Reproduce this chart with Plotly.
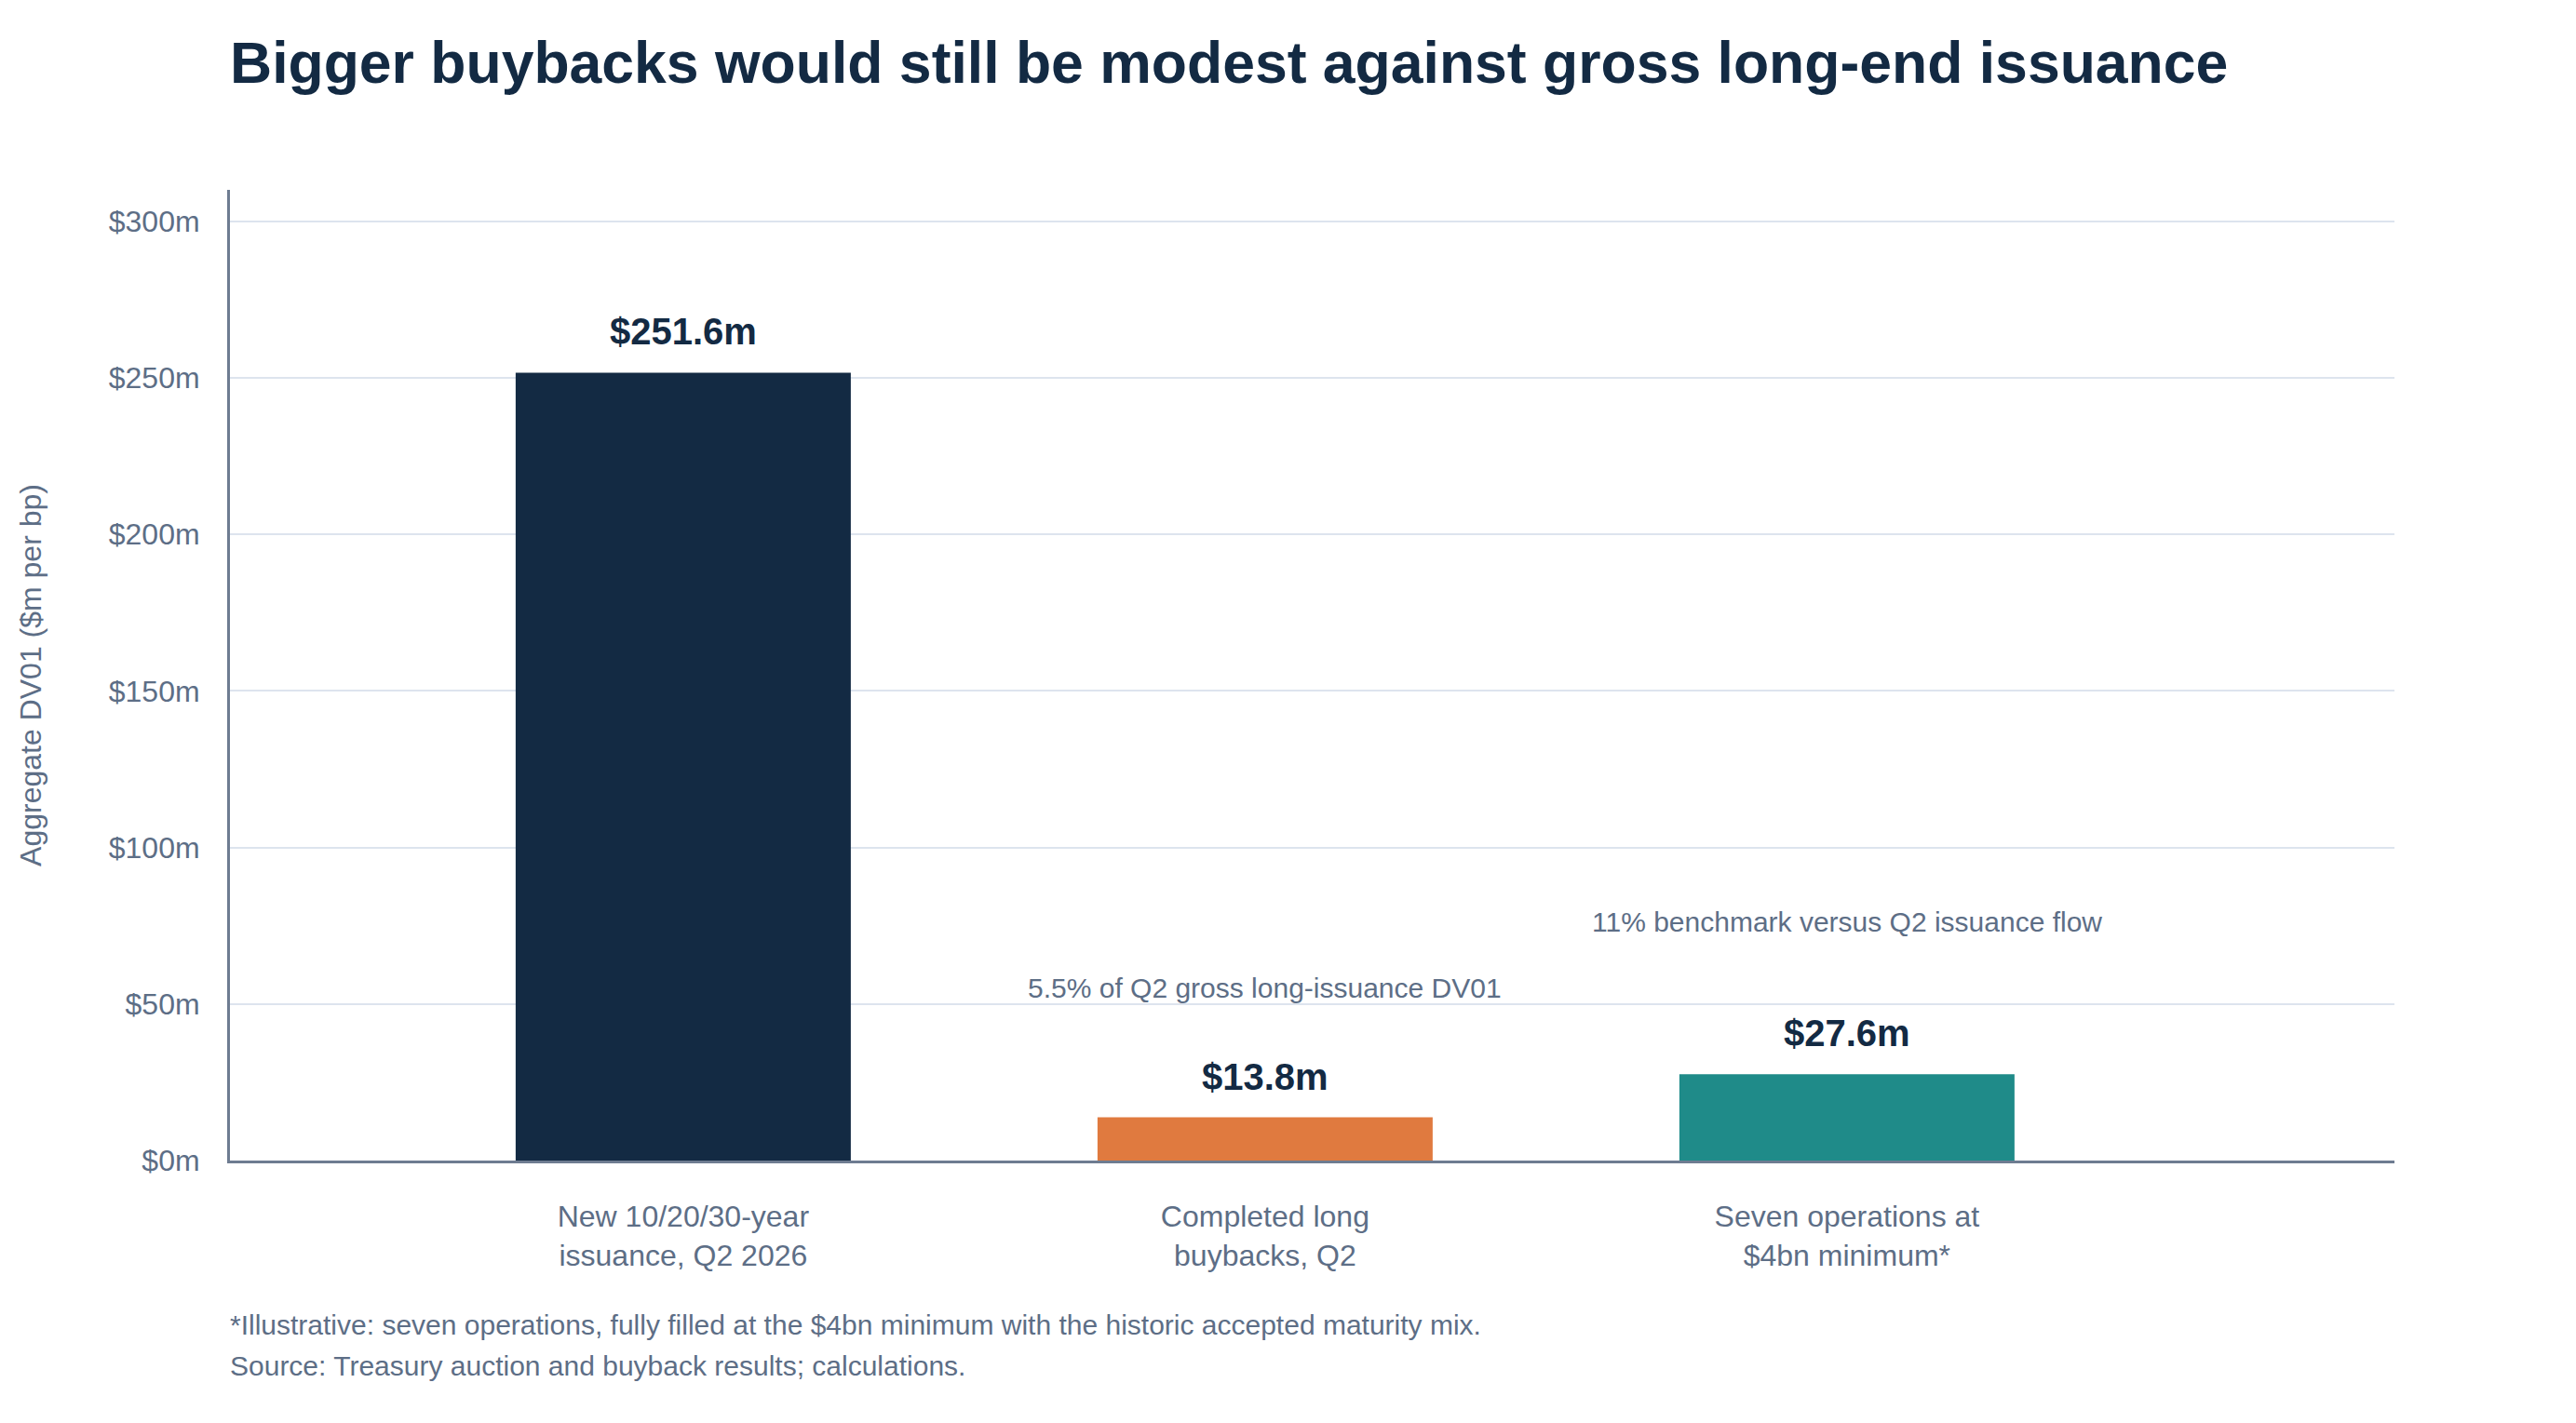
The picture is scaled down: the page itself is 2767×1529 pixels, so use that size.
import plotly.graph_objects as go

# chart data
categories = ["New 10/20/30-year<br>issuance, Q2 2026",
              "Completed long<br>buybacks, Q2",
              "Seven operations at<br>$4bn minimum*"]
dv01 = [251.6, 13.8, 27.6]
value_labels = ["$251.6m", "$13.8m", "$27.6m"]
bar_colors = ["#132a43", "#e07a3f", "#1f8b89"]

note_cats = [categories[1], categories[2]]
note_y = [55.0, 76.2]
note_text = ["5.5% of Q2 gross long-issuance DV01",
             "11% benchmark versus Q2 issuance flow"]

footnotes = ["*Illustrative: seven operations, fully filled at the $4bn minimum with the historic accepted maturity mix.",
             "Source: Treasury auction and buyback results; calculations."]

FONT = "Liberation Sans, Arial, sans-serif"
NAVY = "#132a43"
SLATE = "#5d6e86"

# page body adds an 8px offset, so the figure is a bit smaller
W, H = 2759, 1521

fig = go.Figure()
fig.add_trace(go.Bar(x=categories, y=dv01, width=0.576,
                     marker=dict(color=bar_colors, line=dict(width=0)),
                     hoverinfo="skip", showlegend=False))

# value labels above the bars
for c, v, t in zip(categories, dv01, value_labels):
    fig.add_annotation(x=c, y=v, text="<b>%s</b>" % t, showarrow=False,
                       yanchor="bottom", yshift=20,
                       font=dict(family=FONT, size=40, color=NAVY))

# share notes
for c, y, t in zip(note_cats, note_y, note_text):
    fig.add_annotation(x=c, y=y, text=t, showarrow=False, yanchor="middle",
                       font=dict(family=FONT, size=30, color=SLATE))

# footnotes below the chart
for i, t in enumerate(footnotes):
    fig.add_annotation(xref="paper", yref="paper", x=0, y=0, text=t,
                       showarrow=False, xanchor="left", yanchor="middle",
                       xshift=-2, yshift=-176 - 44 * i,
                       font=dict(family=FONT, size=30, color=SLATE))

fig.update_layout(
    width=W, height=H,
    margin=dict(l=239, r=195, t=196, b=282),
    paper_bgcolor="white", plot_bgcolor="white",
    font=dict(family=FONT, color=SLATE),
    title=dict(text="<b>Bigger buybacks would still be modest against gross long-end issuance</b>",
               x=239 / W, xanchor="left", xref="container",
               y=1 - 59 / H, yanchor="middle", yref="container",
               font=dict(family=FONT, size=62.5, color=NAVY)),
)

fig.update_xaxes(range=[-0.779, 2.941], showgrid=False,
                 showline=True, linecolor="#6e7c91", linewidth=3,
                 ticks="", tickfont=dict(family=FONT, size=32, color=SLATE),
                 ticklabelstandoff=30)
fig.update_yaxes(range=[0, 310], tickmode="linear", tick0=0, dtick=50,
                 tickprefix="$", ticksuffix="m",
                 showgrid=True, gridcolor="#dde4ee", gridwidth=2,
                 zeroline=False, showline=True, linecolor="#6e7c91", linewidth=3,
                 ticks="", tickfont=dict(family=FONT, size=32, color=SLATE),
                 ticklabelstandoff=23,
                 title=dict(text="Aggregate DV01 ($m per bp)", standoff=63,
                            font=dict(family=FONT, size=32, color=SLATE)))

fig.write_html("out.html")
